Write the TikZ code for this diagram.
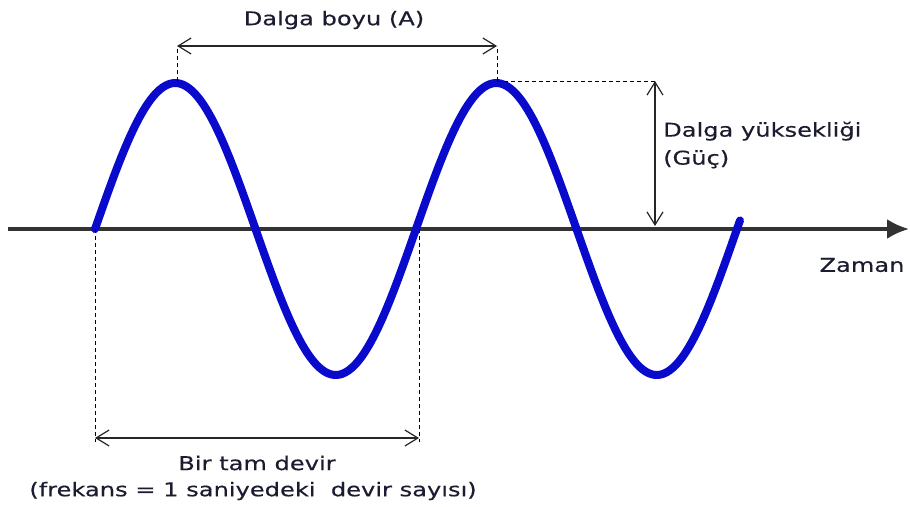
\documentclass[tikz,border=0pt]{standalone}
\usepackage{fontspec}
\setmainfont[FakeStretch=1.27,FakeBold=0.4]{DejaVu Sans}
\usetikzlibrary{arrows.meta}
\definecolor{wave}{RGB}{10,10,205}
\definecolor{txt}{RGB}{28,28,48}
\begin{document}
\begin{tikzpicture}[x=1pt,y=-1pt,
  lbl/.style={font=\fontsize{19}{24}\selectfont, text=txt, inner sep=0pt},
  dim/.style={draw=black!85, line width=1.2pt, {Straight Barb[length=13pt,width=16pt]}-{Straight Barb[length=13pt,width=16pt]}},
  guide/.style={draw=black, line width=1pt, dash pattern=on 4pt off 3pt}]
\useasboundingbox (0,0) rectangle (910,506);
% axis
\coordinate (ax0) at (8,229);
\coordinate (ax1) at (909,229);
\draw[line width=3.5pt, black!80, -{Latex[length=22pt,width=20pt]}] (ax0) -- (ax1);
% wave
\draw[wave, line width=8pt, line cap=round, line join=round]
  plot[domain=95:740, samples=220, smooth] (\x, {229 - 146*sin((\x-95)/321*360)});
% key points
\coordinate (z0) at (95,229);
\coordinate (z2) at (419,229);
\coordinate (p1) at (177,81);
\coordinate (p2) at (497,81);
\coordinate (t1) at (177,46);
\coordinate (t2) at (497,46);
\coordinate (h1) at (655,81);
\coordinate (h2) at (655,226);
\coordinate (b1) at (95,438);
\coordinate (b2) at (419,438);
\coordinate (bb1) at (95,442);
\coordinate (bb2) at (419,442);
% guides
\draw[guide] (p1) -- (t1);
\draw[guide] (p2) -- (t2);
\draw[guide] (p2) -- (h1);
\draw[guide] (z0) -- (bb1);
\draw[guide] (z2) -- (bb2);
% dimension arrows
\draw[dim] (t1) -- (t2);
\draw[dim] (h1) -- (h2);
\draw[dim] (b1) -- (b2);
% labels
\node[lbl] (wl) at (334,20) {Dalga boyu (A)};
\node[lbl, anchor=west, align=left] (wh) at (663,145) {Dalga yüksekliği\\[4pt](Güç)};
\node[lbl] (zm) at (862,265) {Zaman};
\node[lbl] (cy1) at (257,463) {Bir tam devir};
\node[lbl] (cy2) at (253,491) {(frekans = 1 saniyedeki\ \ devir sayısı)};
\end{tikzpicture}
\end{document}
